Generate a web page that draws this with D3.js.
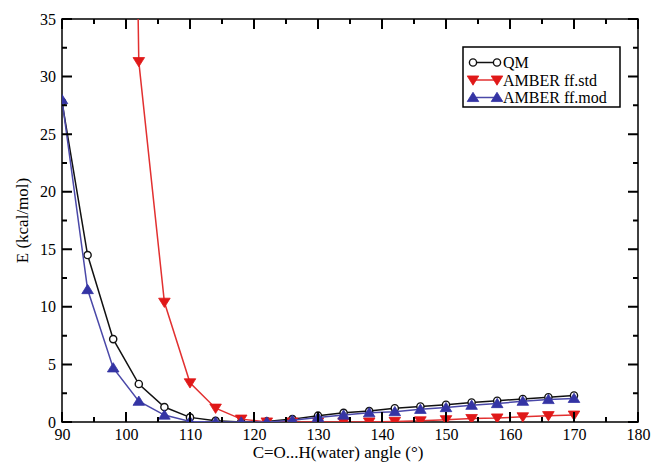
<!DOCTYPE html>
<html>
<head>
<meta charset="utf-8">
<script src="https://cdn.jsdelivr.net/npm/d3@7"></script>
<style>
  html, body { margin: 0; padding: 0; background: #fff; }
  svg { display: block; font-family: "Liberation Serif", "Times New Roman", serif; }
</style>
</head>
<body>
<svg id="chart" width="652" height="467"></svg>
<script>
// Scan angles (degrees)
const angles = [90, 94, 98, 102, 106, 110, 114, 118, 122, 126, 130, 134, 138, 142, 146, 150, 154, 158, 162, 166, 170];

// Interaction energies (kcal/mol)
const qm = [27.8, 14.5, 7.2, 3.3, 1.3, 0.4, 0.1, 0.0, 0.05, 0.25, 0.55, 0.8, 0.95, 1.2, 1.35, 1.5, 1.7, 1.85, 2.0, 2.15, 2.3];
const amberStd = [null, null, 180, 31.3, 10.4, 3.4, 1.2, 0.25, 0.0, 0.0, 0.0, 0.0, 0.0, 0.05, 0.1, 0.2, 0.3, 0.35, 0.45, 0.55, 0.6];
const amberMod = [28.0, 11.5, 4.7, 1.8, 0.6, 0.05, 0.0, 0.0, 0.0, 0.15, 0.4, 0.6, 0.8, 0.9, 1.1, 1.25, 1.45, 1.6, 1.8, 1.95, 2.05];

const seriesNames = ["QM", "AMBER ff.std", "AMBER ff.mod"];
const xTicks = [90, 100, 110, 120, 130, 140, 150, 160, 170, 180];
const yTicks = [0, 5, 10, 15, 20, 25, 30, 35];
const xMinor = [95, 105, 115, 125, 135, 145, 155, 165, 175];
const yMinor = [2.5, 7.5, 12.5, 17.5, 22.5, 27.5, 32.5];
const xLabel = "C=O...H(water) angle (°)";
const yLabel = "E (kcal/mol)";

const svg = d3.select("#chart");
const m = { left: 62, right: 14, top: 19, bottom: 45 };
const W = 652, H = 467;
const x = d3.scaleLinear().domain([90, 180]).range([m.left, W - m.right]);
const y = d3.scaleLinear().domain([0, 35]).range([H - m.bottom, m.top]);
const x0 = x(90), x1 = x(180), y0 = y(0), y1 = y(35);
const serif = '"Liberation Serif", "Times New Roman", serif';

svg.append("defs").append("clipPath").attr("id", "plotClip")
  .append("rect")
  .attr("x", x0).attr("y", y1)
  .attr("width", x1 - x0).attr("height", y0 - y1);

// Frame
svg.append("path")
  .attr("d", `M${x0},${y1}H${x1}V${y0}H${x0}Z`)
  .attr("fill", "none").attr("stroke", "#000").attr("stroke-width", 1.5);

// Tick labels
svg.append("g").attr("transform", `translate(0,${y0})`)
  .call(d3.axisBottom(x).tickValues(xTicks).tickSize(0).tickPadding(7).tickFormat(d3.format("d")))
  .call(g => g.select(".domain").remove())
  .call(g => g.selectAll("text").style("font-family", serif).style("font-size", "16px").attr("fill", "#000"));
svg.append("g").attr("transform", `translate(${x0},0)`)
  .call(d3.axisLeft(y).tickValues(yTicks).tickSize(0).tickPadding(6).tickFormat(d3.format("d")))
  .call(g => g.select(".domain").remove())
  .call(g => g.selectAll("text").style("font-family", serif).style("font-size", "16px").attr("fill", "#000"));

// Axis titles
svg.append("text").attr("x", (x0 + x1) / 2 - 12).attr("y", 458)
  .attr("text-anchor", "middle").style("font-family", serif).style("font-size", "17px").text(xLabel);
svg.append("text").attr("transform", `translate(28,${(y0 + y1) / 2}) rotate(-90)`)
  .attr("text-anchor", "middle").style("font-family", serif).style("font-size", "17px").text(yLabel);

// Series
const series = [
  { name: seriesNames[0], values: qm, line: "#111", fill: "#fff", stroke: "#111", sym: "circle" },
  { name: seriesNames[1], values: amberStd, line: "#e23030", fill: "#e01818", stroke: "#e01818", sym: "down" },
  { name: seriesNames[2], values: amberMod, line: "#4a48a8", fill: "#3434a4", stroke: "#3434a4", sym: "up" }
];

function marker(g, s, cx, cy) {
  if (s.sym === "circle") {
    g.append("circle").attr("cx", cx).attr("cy", cy).attr("r", 3.6)
      .attr("fill", s.fill).attr("stroke", s.stroke).attr("stroke-width", 1.4);
  } else {
    const h = 5.8, w = 5.8;
    const pts = s.sym === "down"
      ? [[cx - w, cy - h * 0.7], [cx + w, cy - h * 0.7], [cx, cy + h * 0.9]]
      : [[cx - w, cy + h * 0.7], [cx + w, cy + h * 0.7], [cx, cy - h * 0.9]];
    g.append("polygon").attr("points", pts.map(p => p.join(",")).join(" "))
      .attr("fill", s.fill).attr("stroke", s.stroke).attr("stroke-width", 0.8);
  }
}

const plot = svg.append("g").attr("clip-path", "url(#plotClip)");
series.forEach(s => {
  const pts = angles.map((a, i) => ({ a, v: s.values[i] })).filter(d => d.v !== null);
  const g = plot.append("g");
  g.append("path").datum(pts)
    .attr("d", d3.line().x(d => x(d.a)).y(d => y(d.v)))
    .attr("fill", "none").attr("stroke", s.line).attr("stroke-width", 1.5);
  pts.filter(d => d.v <= 35).forEach(d => marker(g, s, x(d.a), y(d.v)));
});

// Inward tick marks on all four sides, drawn over the curves
const tickPath = d3.path();
const addTick = (xa, ya, xb, yb) => { tickPath.moveTo(xa, ya); tickPath.lineTo(xb, yb); };
xTicks.forEach(v => { addTick(x(v), y0, x(v), y0 - 10); addTick(x(v), y1, x(v), y1 + 10); });
xMinor.forEach(v => { addTick(x(v), y0, x(v), y0 - 5); addTick(x(v), y1, x(v), y1 + 5); });
yTicks.forEach(v => { addTick(x0, y(v), x0 + 10, y(v)); addTick(x1, y(v), x1 - 10, y(v)); });
yMinor.forEach(v => { addTick(x0, y(v), x0 + 5, y(v)); addTick(x1, y(v), x1 - 5, y(v)); });
svg.append("path")
  .attr("d", tickPath.toString())
  .attr("fill", "none").attr("stroke", "#000").attr("stroke-width", 2);

// Legend
const lg = svg.append("g");
lg.append("rect").attr("x", 463).attr("y", 47).attr("width", 157).attr("height", 60)
  .attr("fill", "#fff").attr("stroke", "#000").attr("stroke-width", 1.5);
series.forEach((s, i) => {
  const ly = 62.5 + i * 17.5;
  lg.append("line").attr("x1", 473).attr("x2", 497).attr("y1", ly).attr("y2", ly)
    .attr("stroke", s.line).attr("stroke-width", 1.5);
  marker(lg, s, 473, ly);
  marker(lg, s, 497, ly);
  lg.append("text").attr("x", 503).attr("y", ly + 5.5)
    .style("font-family", serif).style("font-size", "16px").text(s.name);
});
</script>
</body>
</html>
